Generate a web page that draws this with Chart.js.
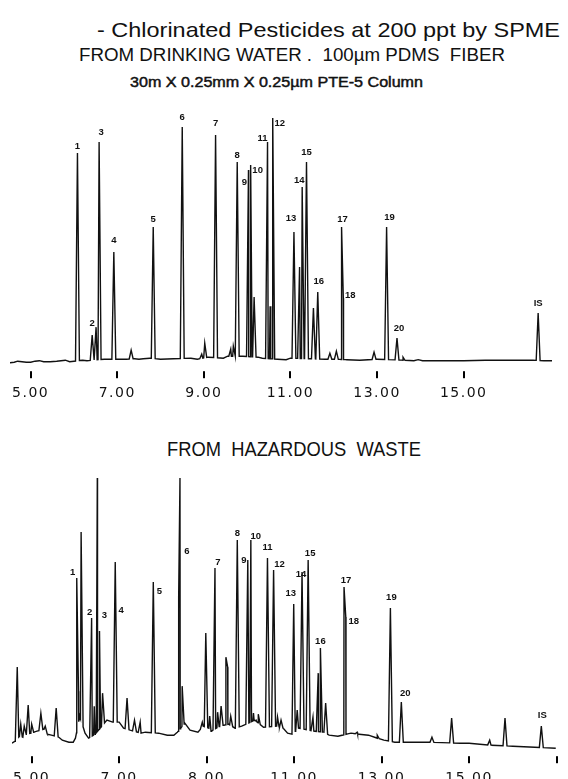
<!DOCTYPE html>
<html>
<head>
<meta charset="utf-8">
<script src="https://cdn.jsdelivr.net/npm/chart.js@4.4.0/dist/chart.umd.min.js"></script>
<style>
  html, body { margin: 0; padding: 0; background: #fff; overflow: hidden; }
  body { width: 568px; height: 779px; position: relative; }
  .title {
    position: absolute; display: inline-block; white-space: pre;
    font-family: "Liberation Sans", Arial, sans-serif; line-height: 1;
    color: #111; transform-origin: 0 0;
  }
  canvas { position: absolute; left: 0; }
</style>
</head>
<body>
<div class="title" data-w="463" style="left:97px; top:19px; font-size:21px;">- Chlorinated Pesticides at 200 ppt by SPME</div>
<div class="title" data-w="426" style="left:79px; top:46px; font-size:18.5px;">FROM DRINKING WATER .  100µm PDMS  FIBER</div>
<div class="title" data-w="293" style="left:130px; top:75px; font-size:14px; -webkit-text-stroke:0.45px #111;">30m X 0.25mm X 0.25µm PTE-5 Column</div>
<div class="title" data-w="254" style="left:167px; top:438px; font-size:21px;">FROM  HAZARDOUS  WASTE</div>

<canvas id="top" width="568" height="309" style="top:100px"></canvas>
<canvas id="bottom" width="568" height="339" style="top:455px"></canvas>

<script>
// ---- drinking water trace (retention time in min, detector response) ----
const topBaseT = [4.52, 4.62, 4.7, 4.8, 4.9, 5.0, 5.1, 5.2, 5.3, 5.45, 5.6, 5.7, 5.8, 5.9, 6.0, 6.2, 6.3, 6.7, 6.85, 7.05,
                  7.2, 7.4, 7.5, 7.6, 7.75, 8.0, 8.3, 8.7, 8.85, 9.1, 9.45, 9.55, 9.9, 10.25, 10.35, 10.7, 10.9, 11.0, 11.8, 12.0,
                  12.3, 12.6, 13.0, 13.6, 13.85, 13.95, 14.05, 14.5, 15.0, 15.5, 16.0, 16.6, 16.85, 17.04];
const topBaseV = [-1.5, -1, 0, -0.5, -1, -1, 0, 0.5, -0.5, -0.5, 0, 0.5, 1, -0.5, 0, 1, 0.5, 2, 2, 2,
                  2, 2.5, 2, 2.5, 3, 2, 2.5, 3, 2, 4, 3, 5, 5, 4, 3, 2, 1.5, 3, 2, 2,
                  1.5, 1, 2, 1, 0.5, 1.5, 0.5, 0.5, 0.5, 1, 1, 1, 0.5, 0.5];
const topPeakT = [6.08, 6.42, 6.51, 6.58, 6.92, 7.32, 7.83, 8.50, 8.95, 9.02,
                  9.27, 9.62, 9.68, 9.77, 10.03, 10.08, 10.16, 10.47, 10.53, 10.59,
                  11.08, 11.21, 11.27, 11.37, 11.53, 11.63, 11.91, 12.06, 12.18, 12.22,
                  12.93, 13.22, 13.46, 13.6, 16.72];
const topPeakV = [208, 26, 34, 219, 109, 11, 134, 234, 7, 18,
                  226, 12, 15, 199, 191, 196, 64, 219, 55, 243,
                  129, 94, 174, 199, 53, 69, 8, 10, 134, 63,
                  9, 134, 23, 4, 48];
const topPeakName = ['1', '2', '', '3', '4', '', '5', '6', '', '',
                     '7', '', '', '8', '9', '10', '', '11', '', '12',
                     '13', '', '14', '15', '', '16', '', '', '17', '18',
                     '', '19', '20', '', 'IS'];
const topTickVals = [5, 7, 9, 11, 13, 15];
const topTickText = ['5.00', '7.00', '9.00', '11.00', '13.00', '15.00'];

// ---- hazardous waste trace ----
const botBaseT = [4.55, 4.62, 4.72, 4.8, 4.88, 4.98, 5.05, 5.12, 5.28, 5.36, 5.45, 5.62, 5.7, 5.85, 5.95, 6.0, 6.1, 6.22, 6.3, 6.45,
                  6.72, 6.85, 7.0, 7.1, 7.25, 7.5, 7.6, 7.9, 8.1, 8.25, 8.33, 8.5, 8.62, 8.8, 8.92, 9.05, 9.1, 9.3, 9.5, 9.65,
                  9.8, 10.1, 10.3, 10.6, 10.75, 10.85, 10.95, 11.1, 11.45, 11.68, 11.8, 12.0, 12.3, 12.45, 12.7, 12.9, 13.05, 13.3, 13.6, 14.0,
                  14.8, 15.0, 15.5, 16.0, 16.5, 16.98];
const botBaseV = [3, 5, 10, 9, 12, 13, 14, 15, 17, 12, 11, 9, 6, 4, 4, 8, 30, 13, 8, 12,
                  26, 24, 24, 18, 16, 13, 14, 13, 11, 11, 14, 23, 16, 14, 20, 18, 15, 20, 22, 18,
                  20, 26, 19, 20, 18, 13, 12, 18, 15, 14, 11, 10, 13, 12, 11, 8, 6, 4, 4, 4,
                  3, 3, 1, 0, -1, -2];
const botPeakT = [4.67, 4.75, 4.83, 4.92, 5.0, 5.21, 5.31, 5.56, 6.03, 6.07,
                  6.13, 6.37, 6.43, 6.50, 6.55, 6.62, 6.91, 7.18, 7.35, 7.48,
                  7.78, 8.36, 8.39, 8.44, 8.9, 8.98, 9.07, 9.19, 9.25, 9.33,
                  9.44, 9.48, 9.55, 9.70, 9.94, 10.01, 10.07, 10.13, 10.18, 10.39,
                  10.53, 10.62, 10.7, 10.99, 11.07, 11.18, 11.32, 11.43, 11.55, 11.60,
                  11.72, 12.14, 12.18, 12.44, 12.90, 13.20, 13.45, 14.15, 14.60, 15.47,
                  15.82, 16.65];
const botPeakV = [79, 22, 20, 41, 22, 33, 20, 38, 168, 55,
                  214, 128, 40, 268, 115, 53, 184, 48, 26, 24,
                  164, 150, 268, 60, 24, 113, 30, 178, 34, 40,
                  89, 79, 30, 206, 186, 206, 33, 26, 32, 188,
                  176, 29, 26, 142, 36, 174, 186, 29, 73, 98,
                  43, 159, 129, 14, 11, 138, 44, 9, 28, 6,
                  28, 20];
const botPeakName = ['', '', '', '', '', '', '', '', '1', '',
                     '', '2', '', '', '3', '', '4', '', '', '',
                     '5', '', '6', '', '', '', '', '7', '', '',
                     '', '', '', '8', '9', '10', '', '', '', '11',
                     '12', '', '', '13', '', '14', '15', '', '', '16',
                     '', '17', '18', '', '', '19', '20', '', '', '',
                     '', 'IS'];
const botTickVals = [5, 7, 9, 11, 13, 15, 17];
const botTickText = ['5.00', '7.00', '8.00', '11.00', '13.00', '15.00', ''];

// label placement (pixel offset from the peak apex)
const topLabelOffset = {'1': [0, -7], '2': [0, -12], '3': [2, -10], '4': [0, -12], '5': [0, -8], '6': [0, -10],
  '7': [0, -12], '8': [0, -7], '9': [-4, 12], '10': [7, 5], '11': [-5, -4], '12': [7, 5], '13': [-3, -14],
  '14': [-3, -7], '15': [0, -10], '16': [1, -11], '17': [1, -8], '18': [7, -3], '19': [3, -10], '20': [2, -10], 'IS': [0, -10]};
const botLabelOffset = {'1': [-4, -6], '2': [-2, -6], '3': [5, -16], '4': [6, 48], '5': [6, 9], '6': [7, 73],
  '7': [3, -6], '8': [0, -7], '9': [-4, 0], '10': [5, -4], '11': [0, -11], '12': [6, -6], '13': [-3, -11],
  '14': [-1, 2], '15': [2, -7], '16': [0, -7], '17': [2, -7], '18': [8, 4], '19': [1, -11], '20': [4, -9], 'IS': [1, -11]};

const PEAK_HALF_WIDTH = 0.045;
const TICK_LEN = 7;

// stretch the titles to the width they take in the picture
document.querySelectorAll('.title').forEach(el => {
    const w = el.getBoundingClientRect().width;
    el.style.transform = `scaleX(${el.dataset.w / w})`;
});

function baseAt(baseT, baseV, t) {
    let i = 1;
    while (i < baseT.length - 1 && baseT[i] < t) i++;
    const t0 = baseT[i - 1], t1 = baseT[i];
    const f = Math.max(0, Math.min(1, (t - t0) / (t1 - t0)));
    return baseV[i - 1] + f * (baseV[i] - baseV[i - 1]);
}

function buildTrace(baseT, baseV, peakT, peakV) {
    const pts = baseT.map((t, i) => ({x: t, y: baseV[i]}));
    peakT.forEach((t, i) => {
        pts.push({x: t - PEAK_HALF_WIDTH, y: baseAt(baseT, baseV, t - PEAK_HALF_WIDTH)});
        pts.push({x: t, y: peakV[i]});
        pts.push({x: t + PEAK_HALF_WIDTH, y: baseAt(baseT, baseV, t + PEAK_HALF_WIDTH)});
    });
    return pts.sort((a, b) => a.x - b.x);
}

// short tick marks at the foot of the plot area, like the recorder's
const tickMarks = {
    id: 'tickMarks',
    afterDraw(chart) {
        const ctx = chart.ctx, xs = chart.scales.x, bottom = chart.chartArea.bottom;
        ctx.save();
        ctx.fillStyle = '#000';
        xs.ticks.forEach((t, i) => {
            const x = Math.round(xs.getPixelForTick(i));
            ctx.fillRect(x - 1, bottom - TICK_LEN, 2, TICK_LEN);
        });
        ctx.restore();
    }
};

const peakLabels = {
    id: 'peakLabels',
    beforeDraw(chart) {
        chart.ctx.letterSpacing = '1.5px';
    },
    afterDraw(chart) {
        const o = chart.options.plugins.peakLabels;
        const ctx = chart.ctx;
        const xs = chart.scales.x, ys = chart.scales.y;
        ctx.save();
        ctx.letterSpacing = '0px';
        ctx.font = 'bold 9.5px "Liberation Sans", Arial, sans-serif';
        ctx.fillStyle = '#111';
        ctx.textAlign = 'center';
        ctx.textBaseline = 'middle';
        o.names.forEach((name, i) => {
            if (!name) return;
            const off = o.offsets[name] || [0, -9];
            ctx.fillText(name, xs.getPixelForValue(o.times[i]) + off[0], ys.getPixelForValue(o.values[i]) + off[1]);
        });
        ctx.restore();
        ctx.letterSpacing = '0px';
    }
};

function makeChart(id, trace, xMin, xMax, yMin, yMax, pad, tickVals, tickText, labels) {
    return new Chart(document.getElementById(id), {
        type: 'scatter',
        data: {
            datasets: [{
                data: trace,
                showLine: true,
                borderColor: '#111',
                borderWidth: 1.4,
                pointRadius: 0,
                tension: 0
            }]
        },
        options: {
            responsive: false,
            animation: false,
            layout: {padding: pad},
            plugins: {
                legend: {display: false},
                tooltip: {enabled: false},
                peakLabels: labels
            },
            scales: {
                x: {
                    type: 'linear',
                    min: xMin,
                    max: xMax,
                    afterBuildTicks: scale => {
                        scale.ticks = tickVals.map(v => ({value: v}));
                    },
                    ticks: {
                        autoSkip: false,
                        maxRotation: 0,
                        padding: 7,
                        color: '#111',
                        font: {family: '"DejaVu Sans", sans-serif', size: 14},
                        callback: (v, i) => tickText[i]
                    },
                    grid: {display: false, drawTicks: false},
                    border: {display: false}
                },
                y: {display: false, min: yMin, max: yMax}
            }
        },
        plugins: [tickMarks, peakLabels]
    });
}

makeChart('top', buildTrace(topBaseT, topBaseV, topPeakT, topPeakV),
    4.522, 17.04, -17, 250, {left: 10, right: 16, top: 11, bottom: 0},
    topTickVals, topTickText,
    {times: topPeakT, values: topPeakV, names: topPeakName, offsets: topLabelOffset});

makeChart('bottom', buildTrace(botBaseT, botBaseV, botPeakT, botPeakV),
    4.55, 17.1, -17, 276, {left: 12, right: 7, top: 15, bottom: 0},
    botTickVals, botTickText,
    {times: botPeakT, values: botPeakV, names: botPeakName, offsets: botLabelOffset});
</script>
</body>
</html>
